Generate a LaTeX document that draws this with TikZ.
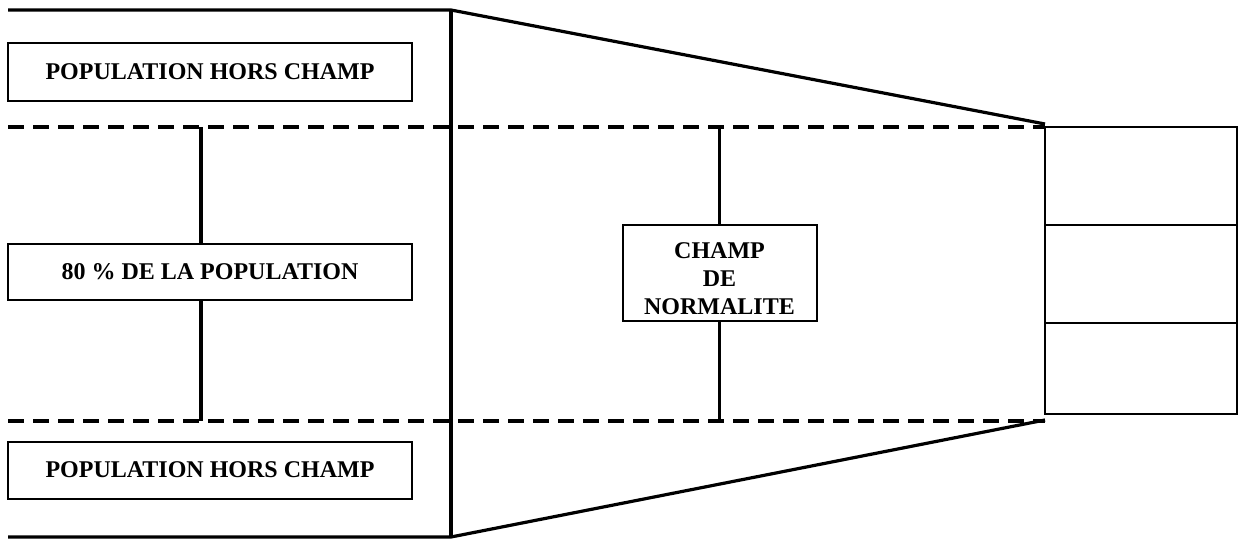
\documentclass[tikz,border=0pt]{standalone}
\usepackage{fontspec}
\setmainfont{Liberation Serif}
\begin{document}
\begin{tikzpicture}[x=0.5pt,y=-0.5pt,
  txtbox/.style={draw,line width=1pt,inner sep=0pt,font=\bfseries\fontsize{12pt}{14pt}\selectfont,align=center},
  txtonly/.style={inner sep=0pt,font=\bfseries\fontsize{12pt}{14pt}\selectfont,align=center},
  thickline/.style={line width=1.6pt},
  dashline/.style={line width=1.6pt,dash pattern=on 8pt off 4.5pt},
  thinbox/.style={draw,line width=1pt,inner sep=0pt},
  divider/.style={line width=0.8pt}]
\useasboundingbox (0,0) rectangle (1238,540);
% left boxes
\node[txtbox,minimum width=202pt,minimum height=29pt] (hc1) at (210,72) {POPULATION HORS CHAMP};
\node[txtbox,minimum width=202pt,minimum height=28pt] (pop) at (210,272) {80 \% DE LA POPULATION};
\node[txtbox,minimum width=202pt,minimum height=28.5pt] (hc2) at (210,470) {POPULATION HORS CHAMP};
\node[thinbox,minimum width=97pt,minimum height=48pt] (champ) at (719.5,273) {};
\node[txtonly] (champtxt) at (719.5,279) {CHAMP\\DE\\NORMALITE};
% right stack
\node[thinbox,minimum width=96pt,minimum height=143.5pt] (stack) at (1141,270.5) {};
\coordinate (d1l) at (1045,225);
\coordinate (d1r) at (1237,225);
\coordinate (d2l) at (1045,323);
\coordinate (d2r) at (1237,323);
\draw[divider] (d1l) -- (d1r);
\draw[divider] (d2l) -- (d2r);
% frame coordinates
\coordinate (tl) at (8,10);
\coordinate (tm) at (451,10);
\coordinate (bl) at (8,537);
\coordinate (bm) at (451,537);
\coordinate (tr) at (1045,124);
\coordinate (br) at (1045,420);
\coordinate (dl1) at (8,127);
\coordinate (dr1) at (1045,127);
\coordinate (dl2) at (8,421);
\coordinate (dr2) at (1045,421);
\coordinate (a1) at (201,127);
\coordinate (a2) at (201,421);
\coordinate (c1) at (719.5,127);
\coordinate (c2) at (719.5,421);
% frame
\draw[thickline] (tl) -- (tm) -- (tr);
\draw[thickline] (bl) -- (bm) -- (br);
\draw[thickline] (tm) -- (bm);
\draw[dashline] (dl1) -- (dr1);
\draw[dashline] (dl2) -- (dr2);
% connectors
\draw[thickline] (a1) -- (a1 |- pop.north);
\draw[thickline] (a2 |- pop.south) -- (a2);
\draw[thickline] (c1) -- (champ.north);
\draw[thickline] (champ.south) -- (c2);
\end{tikzpicture}
\end{document}
